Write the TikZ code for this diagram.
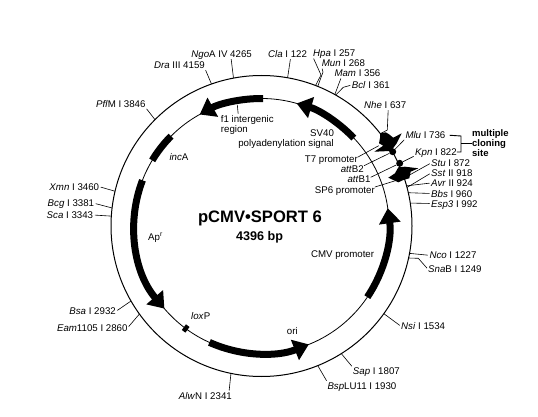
\documentclass[tikz,border=0pt]{standalone}
\usepackage{fontspec}
\setmainfont{Liberation Sans}
\usetikzlibrary{arrows.meta}
\newcommand{\foot}[2]{\coordinate (#1) at ([shift={(261.5,-226)}]90-#2/4396*360:150.5);}
\begin{document}
\begin{tikzpicture}[x=1pt,y=1pt,font=\fontsize{9.7}{11}\selectfont,line cap=butt,
  site/.style={inner sep=0pt,text height=7pt,text depth=0pt},
  tick/.style={line width=0.6pt,shorten >=1.5pt},
  feature/.style={line width=7pt,-{Triangle[length=15pt,width=21pt]}},
  plainbar/.style={line width=7pt},
  dot/.style={circle,fill=black,inner sep=0pt,minimum size=7pt}]
\useasboundingbox (0,0) rectangle (538,-417);
\coordinate (c) at (261.5,-226);
\draw[line width=1pt] (c) circle (150.5);
\draw[line width=0.8pt] (c) circle (127.5);
\begin{scope}[shift={(c)}]
\draw[feature] (89.3:127.5) arc[start angle=89.3,end angle=119,radius=127.5];
\draw[feature] (43.6:127.5) arc[start angle=43.6,end angle=74,radius=127.5];
\draw[plainbar] (149:127.5) arc[start angle=149,end angle=135.2,radius=127.5];
\draw[feature] (159:127.5) arc[start angle=159,end angle=220.4,radius=127.5];
\draw[feature] (-114.1:127.5) arc[start angle=-114.1,end angle=-68.2,radius=127.5];
\draw[feature] (-33.9:127.5) arc[start angle=-33.9,end angle=8,radius=127.5];
\draw[plainbar] (-125.5:127.5) arc[start angle=-125.5,end angle=-127.5,radius=127.5];
\end{scope}
% cloning site
\fill (380,-133.3) -- (385.7,-132.3) -- (389,-134.3) -- (393.3,-137.7) -- (401.7,-133.3) -- (396.7,-143.3) -- (393,-148.3) -- (390,-151) -- (374.3,-151.7) -- (383.3,-145.7) -- (379,-143.3) -- (380,-138) -- cycle;
\fill (398.3,-167.3) -- (405,-166.7) -- (418.3,-168.3) -- (410.7,-171.7) -- (409.3,-178.3) -- (403.3,-180) -- (398.3,-182.3) -- (388.3,-177.7) -- (395,-173.3) -- cycle;
\node[dot] (attbtwo) at (392.7,-151.7) {};
\node[dot] (attbone) at (399.7,-163.3) {};
\coordinate (sevenhead) at (380,-145);
\coordinate (sixhead) at (400,-179.3);
\coordinate (brk) at (461,-136);
% centre
\node[inner sep=0pt,font=\fontsize{16.6}{18}\selectfont\bfseries] (name) at (260,-218) {pCMV•SPORT 6};
\node[inner sep=0pt,font=\fontsize{12.6}{14}\selectfont\bfseries] (size) at (259.5,-237) {4396 bp};
% features
\node[site,anchor=west,align=left,text height=,text depth=,font=\fontsize{9.7}{10}\selectfont] (fone) at (220.7,-125) {f1 intergenic\\region};
\coordinate (fonebar) at (237.3,-105);
\draw[tick] (fonebar) -- ([xshift=-9pt]fone.north);
\node[site,anchor=west] (sv) at (310,-132.7) {SV40};
\node[site,anchor=east] (polya) at (334,-142.7) {polyadenylation signal};
\node[site,anchor=east] (seven) at (358,-159) {T7 promoter};
\node[site,anchor=east] (attbtwolabel) at (364,-168.7) {\textit{att}B2};
\node[site,anchor=east] (attbonelabel) at (370.7,-179.3) {\textit{att}B1};
\node[site,anchor=east] (six) at (375,-190) {SP6 promoter};
\node[site,anchor=east] (cmv) at (374.3,-254) {CMV promoter};
\node[site,anchor=west] (inca) at (169.3,-156.7) {\textit{inc}A};
\node[site,anchor=west] (ap) at (148,-237) {Ap\textsuperscript{r}};
\node[site,anchor=west] (lox) at (191,-315.7) {\textit{lox}P};
\node[site,anchor=west] (ori) at (286.7,-331) {ori};
\draw[tick] ([yshift=2pt]seven.east) -- (sevenhead);
\draw[tick,shorten >=0pt] ([yshift=3pt]attbtwolabel.east) -- (attbtwo);
\draw[tick,shorten >=0pt] ([yshift=2pt]attbonelabel.east) -- (attbone);
\draw[tick] ([yshift=3pt]six.east) -- (sixhead);
% sites, clockwise
\foot{clafoot}{122}
\node[site,anchor=west] (cla) at (268,-54) {\textit{Cla} I 122};
\draw[tick] (clafoot) -- ([xshift=3pt]cla.south);
\foot{hpafoot}{257}
\coordinate (hpabend) at (321,-75);
\node[site,anchor=west] (hpa) at (313,-53.5) {\textit{Hpa} I 257};
\draw[tick] (hpafoot) -- (hpabend) -- (hpa.south west);
\foot{munfoot}{268}
\coordinate (munbend) at (323,-72);
\node[site,anchor=west] (mun) at (321.7,-63.5) {\textit{Mun} I 268};
\draw[tick] (munfoot) -- (munbend) -- (mun.south west);
\foot{mamfoot}{356}
\node[site,anchor=west] (mam) at (334.3,-73.5) {\textit{Mam} I 356};
\draw[tick] (mamfoot) -- ([xshift=7pt]mam.south west);
\foot{bclfoot}{361}
\coordinate (bclbend) at (343.3,-87.3);
\node[site,anchor=west] (bcl) at (351.7,-85) {\textit{Bcl} I 361};
\draw[tick] (bclfoot) -- (bclbend) -- (bcl.west);
\foot{nhefoot}{637}
\coordinate (nhebend) at (387.3,-130);
\node[site,anchor=west] (nhe) at (364,-105) {\textit{Nhe} I 637};
\draw[tick] (nhefoot) -- (nhebend) -- ([xshift=3pt]nhe.south);
\node[site,anchor=west] (mlu) at (405.3,-135) {\textit{Mlu} I 736};
\draw[tick] (attbtwo) -- (mlu.south west);
\node[site,anchor=west] (kpn) at (415,-152) {\textit{Kpn} I 822};
\draw[tick] (attbone) -- (kpn.south west);
\foot{stufoot}{872}
\node[site,anchor=west] (stu) at (431,-163) {\textit{Stu} I 872};
\draw[tick] (stufoot) -- (stu.west);
\foot{sstfoot}{918}
\node[site,anchor=west] (sst) at (431,-173) {\textit{Sst} II 918};
\draw[tick] (sstfoot) -- (sst.west);
\foot{avrfoot}{910}
\node[site,anchor=west] (avr) at (431,-183) {\textit{Avr} II 924};
\draw[tick] (avrfoot) -- (avr.west);
\foot{bbsfoot}{943}
\node[site,anchor=west] (bbs) at (431,-193.5) {\textit{Bbs} I 960};
\draw[tick] (bbsfoot) -- (bbs.west);
\foot{espfoot}{992}
\node[site,anchor=west] (esp) at (431,-203.5) {\textit{Esp3} I 992};
\draw[tick] (espfoot) -- (esp.west);
\foot{ncofoot}{1227}
\node[site,anchor=west] (nco) at (429.3,-255.3) {\textit{Nco} I 1227};
\draw[tick] (ncofoot) -- (nco.west);
\foot{snafoot}{1249}
\coordinate (snabend) at (418.3,-258.3);
\node[site,anchor=west] (sna) at (428,-269.3) {\textit{Sna}B I 1249};
\draw[tick] (snafoot) -- (snabend) -- (sna.west);
\foot{nsifoot}{1534}
\node[site,anchor=west] (nsi) at (401,-326.3) {\textit{Nsi} I 1534};
\draw[tick] (nsifoot) -- (nsi.west);
\foot{sapfoot}{1807}
\node[site,anchor=west] (sap) at (352.7,-371) {\textit{Sap} I 1807};
\draw[tick] (sapfoot) -- (sap.north west);
\foot{bspfoot}{1930}
\node[site,anchor=west] (bsp) at (327.3,-385.7) {\textit{Bsp}LU11 I 1930};
\draw[tick] (bspfoot) -- (bsp.north west);
\foot{alwfoot}{2341}
\node[site,anchor=east] (alw) at (232,-395.7) {\textit{Alw}N I 2341};
\draw[tick] (alwfoot) -- ([xshift=-3pt]alw.north east);
\foot{eamfoot}{2860}
\node[site,anchor=east] (eam) at (127.7,-327.7) {\textit{Eam}1105 I 2860};
\draw[tick] (eamfoot) -- (eam.east);
\foot{bsafoot}{2932}
\node[site,anchor=east] (bsa) at (116,-311.3) {\textit{Bsa} I 2932};
\draw[tick] (bsafoot) -- (bsa.east);
\foot{scafoot}{3343}
\node[site,anchor=east] (sca) at (93.3,-215) {\textit{Sca} I 3343};
\draw[tick] (scafoot) -- (sca.east);
\foot{bcgfoot}{3381}
\node[site,anchor=east] (bcg) at (94.3,-203.3) {\textit{Bcg} I 3381};
\draw[tick] (bcgfoot) -- (bcg.east);
\foot{xmnfoot}{3460}
\node[site,anchor=east] (xmn) at (99.3,-186.7) {\textit{Xmn} I 3460};
\draw[tick] (xmnfoot) -- (xmn.east);
\foot{pflfoot}{3846}
\node[site,anchor=east] (pfl) at (145.7,-104) {\textit{Pfl}M I 3846};
\draw[tick] (pflfoot) -- (pfl.south east);
\foot{drafoot}{4159}
\node[site,anchor=east] (dra) at (205,-65) {\textit{Dra} III 4159};
\draw[tick] (drafoot) -- (dra.south east);
\foot{ngofoot}{4265}
\node[site,anchor=east] (ngo) at (252,-54) {\textit{Ngo}A IV 4265};
\draw[tick] (ngofoot) -- ([xshift=-21pt]ngo.south east);
% bracket
\node[inner sep=0pt,anchor=west,align=left,font=\fontsize{9.5}{8.8}\selectfont\bfseries] (mcs) at (472,-143) {multiple\\cloning\\site};
\draw[line width=0.9pt,shorten <=4pt] (mlu.east) -- (brk) |- (kpn.east);
\draw[line width=0.9pt] (mcs.west) -- (brk |- mcs.west);
\end{tikzpicture}
\end{document}
